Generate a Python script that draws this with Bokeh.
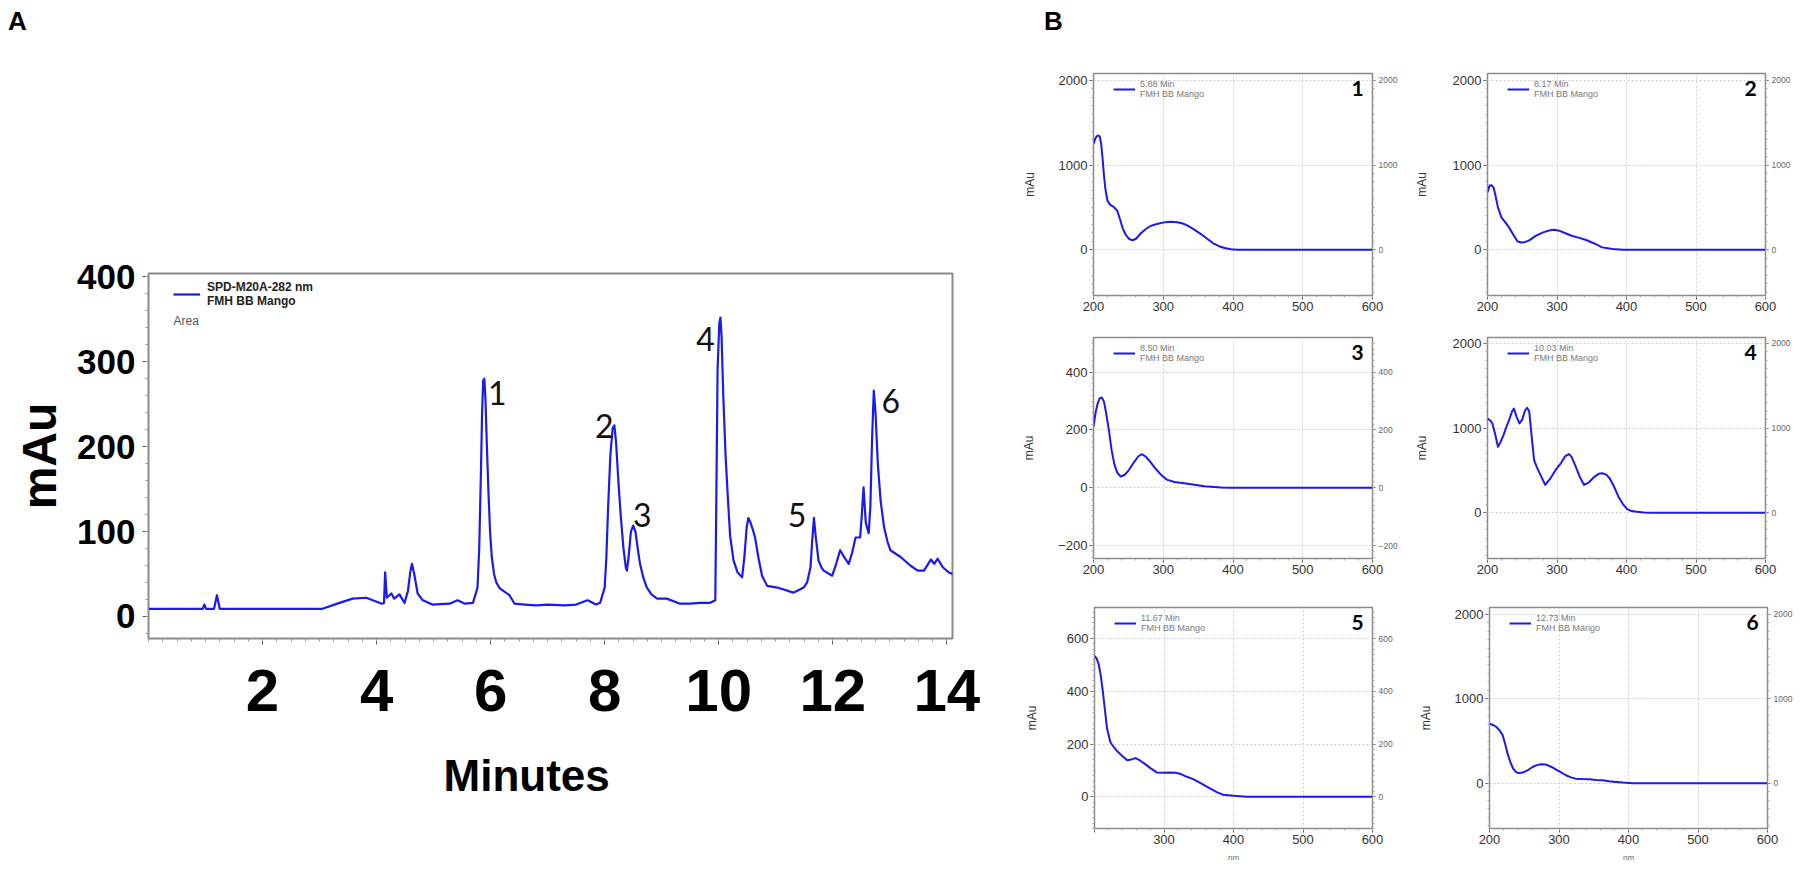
from bokeh.plotting import figure
from bokeh.models import (Range1d, LinearAxis, FixedTicker, Label, Legend, LegendItem, Div, Title)
from bokeh.layouts import row, column
from bokeh.embed import file_html
from bokeh.resources import INLINE
from bokeh.core.properties import value
import numpy as np

# ---------------- data: chromatogram (panel A) ----------------
time_min = [0, 0.95, 0.98, 1.01, 1.15, 1.2, 1.25, 3.05, 3.35, 3.58, 3.82, 4.09, 4.13, 4.15, 4.18,
            4.26, 4.31, 4.40, 4.49, 4.55, 4.59, 4.62, 4.66, 4.72, 4.81, 4.98, 5.28, 5.42, 5.55, 5.69,
            5.77, 5.80, 5.83, 5.85, 5.87, 5.89, 5.91, 5.93, 5.96, 5.99, 6.02, 6.06, 6.10, 6.16,
            6.33, 6.42, 6.6, 6.8, 7.0, 7.3, 7.5, 7.7, 7.85, 7.92,
            8.0, 8.03, 8.06, 8.10, 8.14, 8.17, 8.20, 8.24, 8.28, 8.33, 8.37, 8.39, 8.42, 8.46, 8.50,
            8.54, 8.58, 8.62, 8.68, 8.74, 8.82, 8.92, 9.09, 9.32, 9.5, 9.67, 9.85,
            9.94, 9.96, 9.98, 10.01, 10.03, 10.05, 10.08, 10.12, 10.16, 10.20, 10.26, 10.33, 10.41,
            10.45, 10.49, 10.52, 10.56, 10.60, 10.64, 10.70, 10.76, 10.85, 11.03, 11.31, 11.49,
            11.55, 11.61, 11.64, 11.67, 11.70, 11.75, 11.80, 11.84, 11.99, 12.06, 12.13, 12.20,
            12.28, 12.34, 12.40, 12.48, 12.51, 12.54, 12.58, 12.63, 12.66, 12.69, 12.72, 12.75,
            12.79, 12.84, 12.90, 12.96, 13.01, 13.19, 13.36, 13.49, 13.6, 13.72, 13.78, 13.84,
            13.93, 14.03, 14.1]
signal_mau = [9, 9, 14, 9, 9, 25, 9, 9, 16, 21, 22, 15, 16, 52, 22,
              27, 21, 26, 16, 30, 52, 62, 50, 27, 19, 14, 15, 19, 15, 16,
              34, 80, 170, 240, 278, 280, 255, 210, 150, 100, 70, 50, 40, 33,
              25, 15, 14, 13, 14, 13, 14, 19, 14, 16,
              34, 70, 128, 190, 222, 225, 205, 160, 120, 80, 58, 54, 70, 100, 107,
              100, 80, 62, 45, 34, 26, 21, 21, 15, 15, 16, 16,
              19, 150, 290, 345, 352, 330, 260, 190, 140, 95, 66, 52, 46,
              70, 105, 116, 110, 102, 92, 68, 48, 36, 34, 28, 34,
              40, 58, 90, 116, 95, 66, 58, 54, 48, 62, 78, 70,
              62, 75, 93, 93, 120, 152, 110, 98, 130, 210, 266, 240,
              180, 136, 105, 88, 78, 70, 60, 54, 54, 67, 62, 68,
              58, 52, 50]
peak_numbers = ["1", "2", "3", "4", "5", "6"]
peak_times = [5.89, 8.17, 8.50, 10.03, 11.67, 12.72]
x_ticks_A = [2, 4, 6, 8, 10, 12, 14]
y_ticks_A = [0, 100, 200, 300, 400]

# ---------------- data: UV spectra (panel B) ----------------
spec_titles = ["5.88 Min", "8.17 Min", "8.50 Min", "10.03 Min", "11.67 Min", "12.73 Min"]
nm1 = [200, 203, 206, 209, 211, 213, 215, 217, 220, 224, 229, 234, 238, 242, 246, 251, 256, 261,
       268, 275, 282, 291, 301, 310, 320, 328, 335, 345, 354, 363, 371, 380, 388, 397, 407, 600]
au1 = [1250, 1320, 1349, 1337, 1250, 1080, 880, 720, 580, 530, 505, 462, 360, 250, 180, 127, 112, 130,
       195, 245, 280, 305, 323, 330, 325, 310, 284, 235, 185, 130, 79, 42, 20, 6, 0, 0]
nm2 = [200, 203, 206, 209, 212, 215, 220, 226, 231, 237, 243, 248, 253, 260, 270, 280, 290, 296,
       303, 312, 322, 332, 341, 352, 365, 380, 395, 600]
au2 = [678, 757, 760, 730, 620, 500, 382, 320, 264, 180, 100, 85, 87, 110, 166, 205, 230, 237,
       225, 195, 162, 140, 118, 80, 28, 8, 0, 0]
nm3 = [200, 203, 206, 209, 212, 215, 218, 222, 226, 230, 234, 239, 245, 251, 258, 264, 269, 275,
       282, 290, 298, 305, 316, 335, 359, 383, 395, 600]
au3 = [211, 260, 292, 310, 312, 298, 260, 200, 130, 80, 52, 39, 45, 62, 88, 108, 116, 108,
       88, 63, 42, 28, 20, 14, 5, 1, 0, 0]
nm4 = [200, 204, 207, 211, 215, 219, 223, 227, 231, 235, 238, 242, 246, 250, 254, 257, 260, 263,
       267, 271, 276, 283, 290, 298, 306, 312, 317, 321, 327, 333, 339, 346, 353, 360, 365, 371,
       376, 382, 389, 395, 401, 407, 415, 425, 435, 600]
au4 = [1114, 1090, 1055, 930, 780, 840, 917, 1010, 1094, 1190, 1231, 1130, 1055, 1100, 1210, 1239, 1200, 950,
       623, 540, 450, 329, 400, 506, 590, 670, 694, 660, 545, 420, 329, 360, 420, 460, 467, 450,
       405, 310, 180, 100, 43, 20, 12, 4, 0, 0]
nm5 = [200, 203, 206, 209, 212, 215, 218, 223, 228, 232, 240, 247, 253, 259, 266, 273, 281, 290,
       300, 309, 316, 323, 332, 342, 354, 366, 376, 385, 400, 419, 600]
au5 = [535, 525, 503, 460, 400, 330, 260, 206, 188, 175, 155, 139, 142, 147, 137, 124, 108, 92,
       91, 92, 91, 88, 77, 67, 50, 32, 18, 8, 4, 0, 0]
nm6 = [200, 205, 210, 215, 219, 223, 226, 230, 234, 238, 241, 246, 250, 256, 262, 268, 274, 280,
       284, 290, 296, 303, 310, 317, 324, 334, 344, 353, 363, 372, 382, 392, 401, 406, 600]
au6 = [706, 690, 666, 620, 568, 450, 351, 250, 174, 135, 122, 124, 134, 160, 193, 215, 225, 222,
       213, 190, 162, 128, 95, 70, 55, 50, 47, 40, 36, 25, 16, 8, 4, 0, 0]
spec_nm = [nm1, nm2, nm3, nm4, nm5, nm6]
spec_au = [au1, au2, au3, au4, au5, au6]
spec_yrange = [(-540, 2080), (-540, 2080), (-245, 520), (-540, 2070), (-120, 718), (-535, 2080)]
spec_yticks = [[0, 1000, 2000], [0, 1000, 2000], [-200, 0, 200, 400], [0, 1000, 2000],
               [0, 200, 400, 600], [0, 1000, 2000]]
nm_ticks = [200, 300, 400, 500, 600]

# ---------------- styles ----------------
BOLDFONT = "'Liberation Sans Narrow', 'Arial Narrow', 'Liberation Sans', Arial, sans-serif"
SANS = "'Liberation Sans', Arial, sans-serif"
BLUE = "#1a1aee"
AXIS_GRAY = "#8c8c8c"

# ---------------- Panel A ----------------
pA = figure(width=1000, height=822, x_range=Range1d(0, 14.1), y_range=Range1d(-26, 404),
            output_backend="svg", toolbar_location=None,
            min_border_left=148, min_border_right=48, min_border_top=225, min_border_bottom=232)
pA.grid.visible = False
pA.outline_line_color = "#8a8a8a"
pA.outline_line_width = 2
rA = pA.line(time_min, signal_mau, line_color=BLUE, line_width=2.2, line_join="round")

pA.xaxis.ticker = FixedTicker(ticks=x_ticks_A, minor_ticks=list(np.arange(0, 14.2, 0.25)))
pA.yaxis.ticker = FixedTicker(ticks=y_ticks_A, minor_ticks=list(range(-20, 420, 20)))
for ax in (pA.xaxis[0], pA.yaxis[0]):
    ax.axis_line_color = AXIS_GRAY
    ax.major_tick_line_color = "#555555"
    ax.minor_tick_line_color = "#999999"
    ax.major_tick_out = 6
    ax.major_tick_in = 0
    ax.minor_tick_out = 3
    ax.minor_tick_in = 0
    ax.major_label_text_font = BOLDFONT
    ax.major_label_text_font_style = "bold"
    ax.major_label_text_color = "black"
    ax.axis_label_text_font = BOLDFONT
    ax.axis_label_text_font_style = "bold"
    ax.axis_label_text_color = "black"
    ax.axis_label_text_font_size = "48px"
pA.xaxis.major_label_text_font_size = "60px"
pA.xaxis.major_label_standoff = 25
pA.yaxis.major_label_text_font_size = "35px"
pA.yaxis.major_label_standoff = 7
pA.yaxis.axis_label = "mAu"
pA.yaxis.axis_label_standoff = 8

# x-axis title: sits a little left of the frame centre in the original
pA.add_layout(Title(text="Minutes", align="left", offset=295, standoff=70,
                    text_font=BOLDFONT, text_font_style="bold", text_font_size="44px",
                    text_color="black"), "below")

legA = Legend(items=[LegendItem(label="SPD-M20A-282 nm\nFMH BB Mango", renderers=[rA])],
              location=(25, 330), padding=0, margin=0, spacing=0,
              glyph_width=27, glyph_height=20, label_standoff=7,
              label_text_font=SANS, label_text_font_style="bold", label_text_font_size="12px",
              label_text_color="#222222", border_line_alpha=0, background_fill_alpha=0)
pA.add_layout(legA)
pA.add_layout(Label(x=25, y=318, x_units="screen", y_units="screen", text="Area",
                    text_font=SANS, text_font_size="12px", text_color="#555555",
                    text_baseline="middle"))

peak_heights = [float(np.max(np.array(signal_mau)[np.abs(np.array(time_min) - t) < 0.05]))
                for t in peak_times]
lab_dx = [13, -10, 9, -15, -17, 17]
lab_dy = [14, 1, -11, 21, -3, 10]
pA.text(x=peak_times, y=peak_heights, text=peak_numbers, x_offset=lab_dx, y_offset=lab_dy,
        text_font=value("Lato"), text_font_size="32px", text_color="#111111",
        text_align="center", text_baseline="middle")

divA = Div(text='<div style="font: bold 26px \'Liberation Sans\', Arial, sans-serif; '
                'line-height: 26px; padding: 8px 0 0 8px; margin: 0;">A</div>',
           width=1000, height=48, margin=(0, 0, 0, 0))

# ---------------- Panel B ----------------
def spectrum_panel(i, width, height, bl, br, bt, bb, mau_standoff, show_nm, hide200):
    yr = spec_yrange[i]
    p = figure(width=width, height=height, x_range=Range1d(200, 600), y_range=Range1d(*yr),
               output_backend="svg", toolbar_location=None,
               min_border_left=bl, min_border_right=br, min_border_top=bt, min_border_bottom=bb)
    p.outline_line_color = "#8a8a8a"
    p.outline_line_width = 1.5
    r = p.line(spec_nm[i], spec_au[i], line_color=BLUE, line_width=2, line_join="round")
    yt = spec_yticks[i]
    step = yt[1] - yt[0]
    minor_y = list(np.arange(yr[0] - yr[0] % (step / 10), yr[1], step / 10))
    p.xaxis.ticker = FixedTicker(ticks=nm_ticks, minor_ticks=list(range(200, 601, 20)))
    p.yaxis.ticker = FixedTicker(ticks=yt, minor_ticks=minor_y)
    p.xgrid.ticker = FixedTicker(ticks=nm_ticks)
    p.ygrid.ticker = FixedTicker(ticks=yt)
    p.grid.grid_line_color = "#cfcfcf"
    p.grid.grid_line_dash = "2 2"
    p.grid.grid_line_width = 1
    right = LinearAxis(ticker=FixedTicker(ticks=yt, minor_ticks=minor_y))
    p.add_layout(right, "right")
    for ax in (p.xaxis[0], p.yaxis[0], right):
        ax.axis_line_color = AXIS_GRAY
        ax.major_tick_line_color = "#555555"
        ax.minor_tick_line_color = "#aaaaaa"
        ax.major_tick_out = 4
        ax.major_tick_in = 0
        ax.minor_tick_out = 2
        ax.minor_tick_in = 0
        ax.major_label_text_font = SANS
        ax.major_label_text_font_size = "13px"
        ax.major_label_text_color = "#333333"
        ax.major_label_standoff = 2
    right.major_tick_out = 3
    right.major_label_text_font_size = "8.5px"
    right.major_label_text_color = "#666666"
    right.major_label_standoff = 3
    p.yaxis[0].axis_label = "mAu"
    p.yaxis[0].axis_label_text_font = SANS
    p.yaxis[0].axis_label_text_font_size = "12px"
    p.yaxis[0].axis_label_text_font_style = "normal"
    p.yaxis[0].axis_label_text_color = "#333333"
    p.yaxis[0].axis_label_standoff = mau_standoff
    if show_nm:
        p.xaxis.axis_label = "nm"
        p.xaxis.axis_label_text_font = SANS
        p.xaxis.axis_label_text_font_size = "8px"
        p.xaxis.axis_label_text_font_style = "normal"
        p.xaxis.axis_label_text_color = "#666666"
        p.xaxis.axis_label_standoff = 6
    if hide200:
        p.xaxis.major_label_overrides = {200: ""}
    frame_h = height - bt - bb
    leg = Legend(items=[LegendItem(label=spec_titles[i] + "\nFMH BB Mango", renderers=[r])],
                 location=(20, frame_h - 26), padding=0, margin=0, spacing=0,
                 glyph_width=22, glyph_height=18, label_standoff=5,
                 label_text_font=SANS, label_text_font_size="9px", label_text_color="#7a7a7a",
                 border_line_alpha=0, background_fill_alpha=0)
    p.add_layout(leg)
    p.add_layout(Label(x=600, y=yr[1], x_offset=-15, y_offset=-15, text=str(i + 1),
                       text_font="Lato", text_font_style="bold", text_font_size="21px",
                       text_align="center", text_baseline="middle", text_color="black"))
    return p

p1 = spectrum_panel(0, 405, 272, 93, 33, 25, 25, 19, False, False)
p2 = spectrum_panel(1, 395, 272, 82, 35, 25, 25, 21, False, False)
p3 = spectrum_panel(2, 405, 265, 93, 33, 17, 27, 19, False, False)
p4 = spectrum_panel(3, 395, 265, 82, 35, 17, 27, 21, False, False)
p5 = spectrum_panel(4, 405, 285, 94, 33, 22, 42, 25, True, True)
p6 = spectrum_panel(5, 395, 285, 84, 33, 22, 42, 19, True, False)

divB = Div(text='<div style="font: bold 26px \'Liberation Sans\', Arial, sans-serif; '
                'line-height: 26px; padding: 8px 0 0 44px; margin: 0;">B</div>',
           width=800, height=48, margin=(0, 0, 0, 0))

layout = row(column(divA, pA), column(divB, row(p1, p2), row(p3, p4), row(p5, p6)))

open("out.html", "w").write(file_html(layout, INLINE))
